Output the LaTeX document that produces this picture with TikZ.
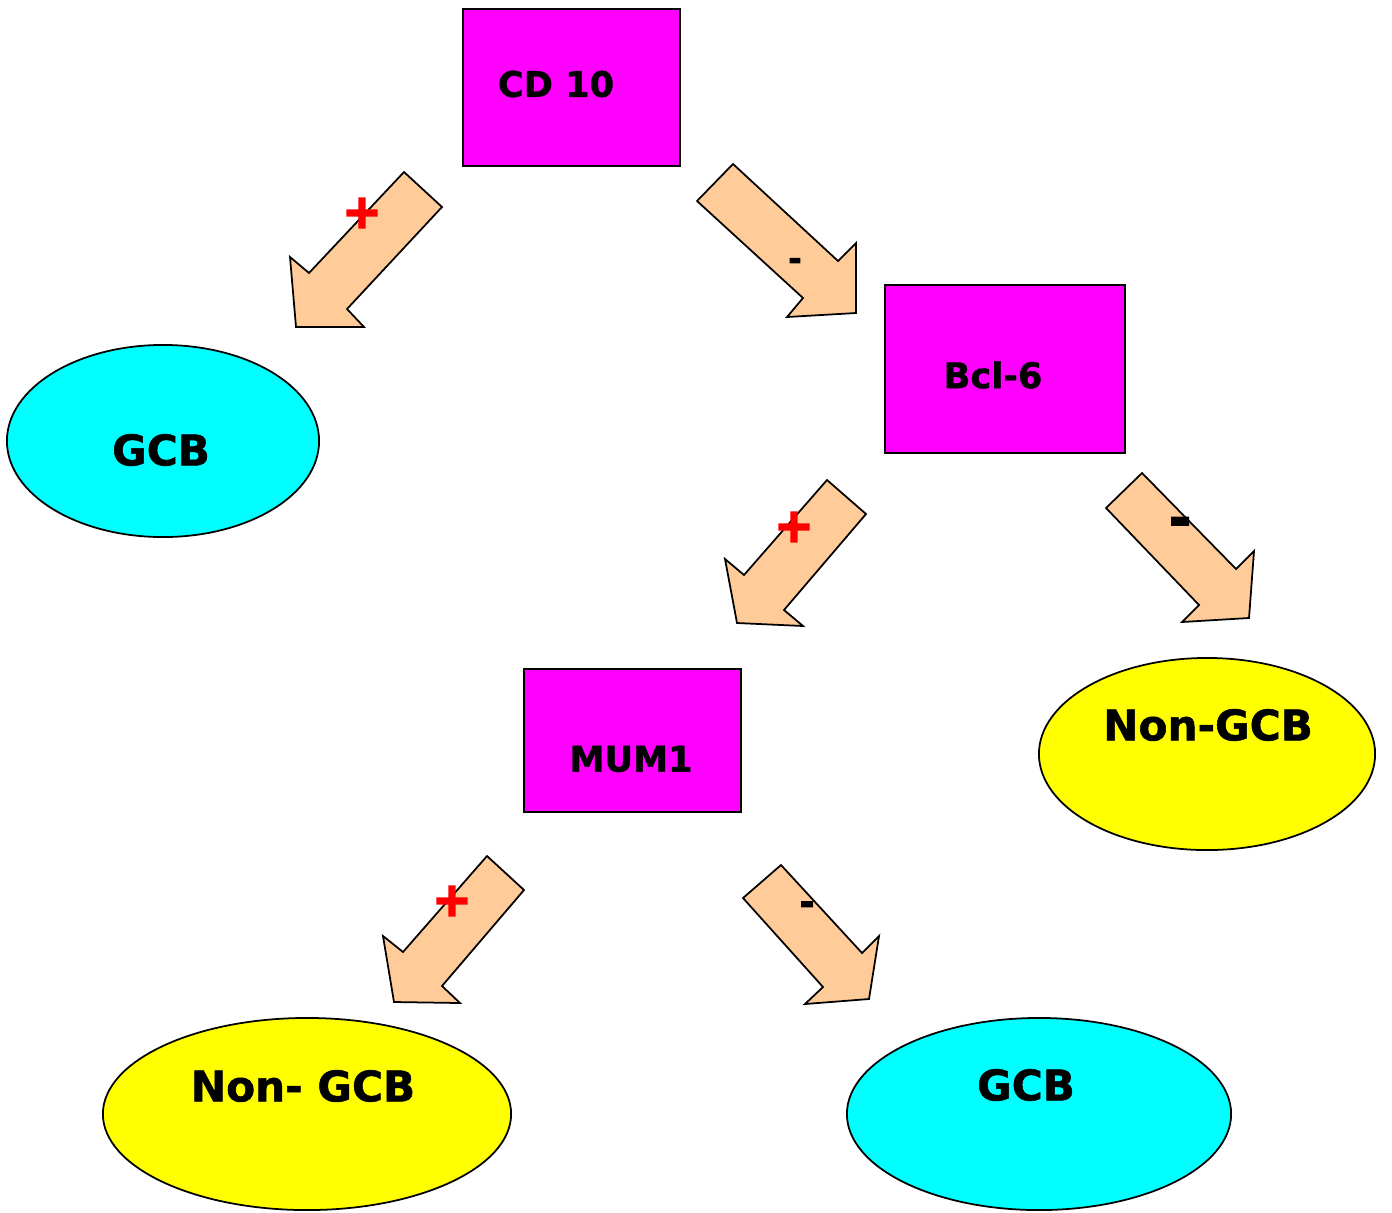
\documentclass[tikz,border=0pt]{standalone}
\usepackage{fontspec}
\setmainfont{DejaVu Sans}[BoldFeatures={FakeBold=1.2}]
\newfontfamily\heavysign{DejaVu Sans}[BoldFeatures={FakeBold=3.5}]
\usepackage{xcolor}
\usetikzlibrary{shapes.geometric}

\definecolor{boxpink}{HTML}{FF00FF}
\definecolor{gcbcyan}{HTML}{00FFFF}
\definecolor{ngcbyellow}{HTML}{FFFF00}
\definecolor{arrowpeach}{HTML}{FFCC99}

\begin{document}
\begin{tikzpicture}[x=0.01cm, y=-0.01cm,
markerbox/.style={rectangle, draw=black, line width=0.5pt, fill=boxpink, inner sep=0pt},
resultnode/.style={ellipse, draw=black, line width=0.5pt, minimum height=1.92cm, inner sep=0pt},
boxtext/.style={font=\fontsize{10}{12}\selectfont\bfseries, inner sep=0pt},
restext/.style={font=\fontsize{12}{14}\selectfont\bfseries, inner sep=0pt},
blockarrow/.style={draw=black, line width=0.5pt, fill=arrowpeach, line join=miter},
plussign/.style={text=red, font=\heavysign\fontsize{13.5}{14}\selectfont\bfseries, inner sep=0pt},
minussign/.style={text=black, inner sep=0pt},
]
\useasboundingbox (0,0) rectangle (1392,1212);

% marker boxes
\node[markerbox, minimum width=2.17cm, minimum height=1.57cm] (cd) at (571.5,87.5) {};
\node[markerbox, minimum width=2.40cm, minimum height=1.68cm] (bcl) at (1005,369) {};
\node[markerbox, minimum width=2.17cm, minimum height=1.43cm] (mum) at (632.5,740.5) {};
\node[boxtext] (cdtext) at (556,84) {CD 10};
\node[boxtext] (bcltext) at (993,375) {Bcl-6};
\node[boxtext] (mumtext) at (631,759) {MUM1};

% results
\node[resultnode, fill=gcbcyan, minimum width=3.12cm] (gcbA) at (163,441) {};
\node[resultnode, fill=ngcbyellow, minimum width=3.36cm] (ngcbA) at (1207,754) {};
\node[resultnode, fill=ngcbyellow, minimum width=4.08cm] (ngcbB) at (307,1114) {};
\node[resultnode, fill=gcbcyan, minimum width=3.84cm] (gcbB) at (1039,1114) {};
\node[restext] (gcbAtext) at (161,450) {GCB};
\node[restext] (ngcbAtext) at (1208,725) {Non-GCB};
\node[restext] (ngcbBtext) at (303,1086) {Non- GCB};
\node[restext] (gcbBtext) at (1026,1085) {GCB};

% block arrows
\draw[blockarrow] (404,172) -- (442,207) -- (347,309) -- (364,327) -- (296,327) -- (290,257) -- (309,273) -- cycle;
\draw[blockarrow] (697,201) -- (733,164) -- (838,261) -- (856,243) -- (856,313) -- (787,317) -- (803,298) -- cycle;
\draw[blockarrow] (827,480) -- (866,514) -- (784,610) -- (803,626) -- (737,623) -- (725,559) -- (744,575) -- cycle;
\draw[blockarrow] (1106,508) -- (1142,473) -- (1236,569) -- (1254,551) -- (1249,618) -- (1182,622) -- (1199,605) -- cycle;
\draw[blockarrow] (487,856) -- (524,890) -- (442,986) -- (460,1003) -- (394,1002) -- (383,936) -- (403,952) -- cycle;
\draw[blockarrow] (743,898) -- (781,865) -- (862,953) -- (879,936) -- (869,999) -- (805,1004) -- (823,987) -- cycle;

% signs
\node[plussign] (plusA) at (362,213) {+};
\node[plussign] (plusB) at (794,527) {+};
\node[plussign] (plusC) at (452,901) {+};
\node[minussign, font=\heavysign\fontsize{9}{9}\selectfont\bfseries] (minusA) at (795,264) {-};
\node[minussign, font=\heavysign\fontsize{15}{15}\selectfont\bfseries] (minusB) at (1180,527) {-};
\node[minussign, font=\heavysign\fontsize{10}{10}\selectfont\bfseries] (minusC) at (807,908) {-};
\end{tikzpicture}
\end{document}
